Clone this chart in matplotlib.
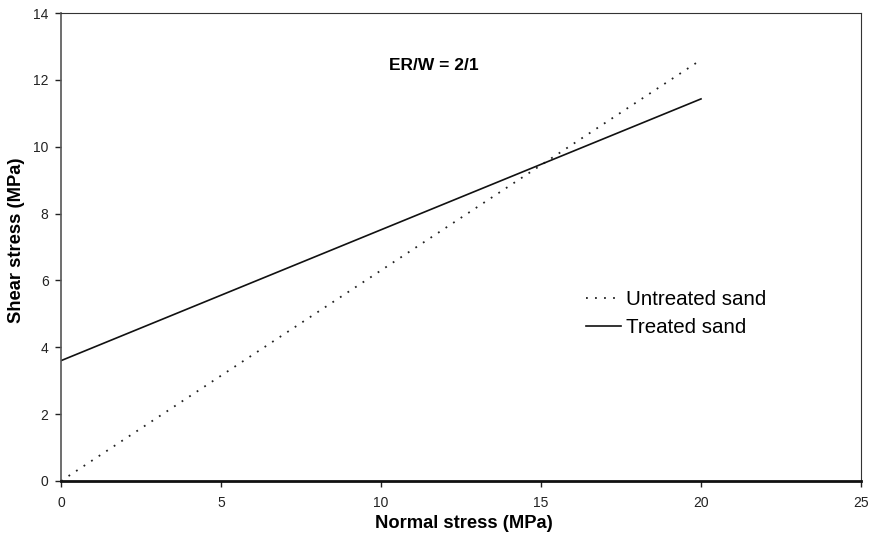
import matplotlib
matplotlib.use("Agg")
import matplotlib.pyplot as plt

plt.rcParams['font.family'] = ['Liberation Sans', 'DejaVu Sans']

normal_stress = [0, 20]
untreated = [0.0, 12.6]
treated = [3.6, 11.43]
series_labels = ["Untreated sand", "Treated sand"]
title_text = "ER/W = 2/1"

fig = plt.figure(figsize=(8.75, 5.38), dpi=100)
ax = fig.add_axes([61/875, 1 - 481/538, 800/875, 468/538])

ax.plot(normal_stress, untreated, color='#222222', linestyle=(0, (1, 4)), linewidth=1.3,
        label=series_labels[0])
ax.plot(normal_stress, treated, color='#111111', linestyle='-', linewidth=1.2,
        label=series_labels[1])

ax.set_xlim(0, 25)
ax.set_ylim(0, 14)
ax.set_xticks([0, 5, 10, 15, 20, 25])
ax.set_yticks([0, 2, 4, 6, 8, 10, 12, 14])
ax.tick_params(direction='out', length=4.5, width=1, labelsize=10, colors='#222222')
ax.tick_params(axis='x', pad=6.5)
ax.tick_params(axis='y', pad=4.5)

ax.spines['bottom'].set_linewidth(2.0)
ax.spines['bottom'].set_color('#111111')
ax.spines['left'].set_color('#555555')
ax.spines['left'].set_linewidth(1.2)
ax.spines['top'].set_color('#333333')
ax.spines['right'].set_color('#333333')

ax.set_xlabel("Normal stress (MPa)", fontsize=13.2, fontweight='bold')
ax.xaxis.set_label_coords(464/875, 1 - 523/538, transform=fig.transFigure)
ax.set_ylabel("Shear stress (MPa)", fontsize=13.2, fontweight='bold')
ax.yaxis.set_label_coords(17/875, 1 - 240/538, transform=fig.transFigure)
ax.xaxis.label.set_va('center')
ax.yaxis.label.set_va('center')

ax.text(434/875, 1 - 65/538, title_text, transform=fig.transFigure, ha='center', va='center',
        fontsize=12.5, fontweight='bold')

leg = ax.legend(loc='upper left', bbox_to_anchor=(586/875, 1 - 290/538),
                bbox_transform=fig.transFigure, frameon=False, fontsize=14.8,
                handlelength=1.7, handletextpad=0.25, borderpad=0, labelspacing=0.45,
                borderaxespad=0)

fig.savefig("out.png", dpi=100)
